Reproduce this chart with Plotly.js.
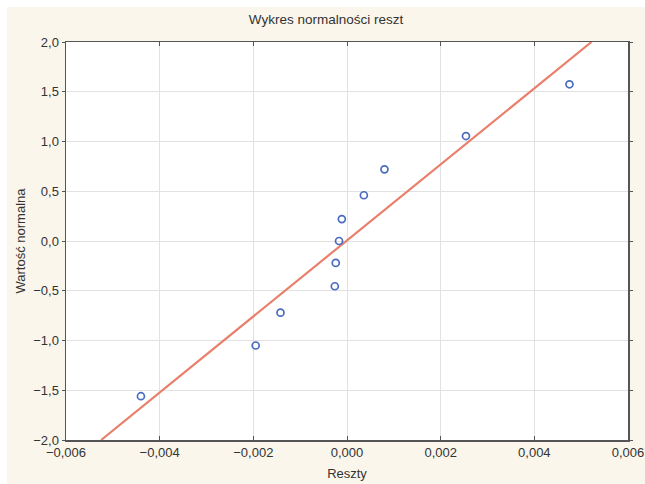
<!DOCTYPE html>
<html>
<head>
<meta charset="utf-8">
<script src="https://cdn.plot.ly/plotly-3.0.1.min.js"></script>
<style>
html,body{margin:0;padding:0;background:#ffffff;}
#chart{position:absolute;left:7px;top:7px;width:638px;height:477px;}
</style>
</head>
<body>
<div id="chart"></div>
<script>
// Residuals (x) and expected normal values (y)
const residuals = [-0.0044, -0.00195, -0.00142, -0.00026, -0.00024, -0.00017, -0.00011, 0.00036, 0.0008, 0.00254, 0.00475];
const normalValues = [-1.56, -1.05, -0.72, -0.455, -0.22, 0.0, 0.22, 0.46, 0.72, 1.055, 1.575];
// Reference line end points
const lineX = [-0.00525, 0.00522];
const lineY = [-2.0, 2.0];
const xTicks = [-0.006, -0.004, -0.002, 0.0, 0.002, 0.004, 0.006];
const yTicks = [-2.0, -1.5, -1.0, -0.5, 0.0, 0.5, 1.0, 1.5, 2.0];

const traces = [
  {x: lineX, y: lineY, mode: 'lines', type: 'scatter',
   line: {color: '#e8806c', width: 2.2}, hoverinfo: 'skip', showlegend: false},
  {x: residuals, y: normalValues, mode: 'markers', type: 'scatter',
   marker: {symbol: 'circle-open', size: 7, color: '#4a6cc0', line: {width: 1.7, color: '#4a6cc0'}},
   showlegend: false}
];

const axisFont = {family: 'Liberation Sans, Arial, sans-serif', size: 13, color: '#333333'};
const layout = {
  width: 638, height: 477,
  paper_bgcolor: '#faf6ec',
  plot_bgcolor: '#ffffff',
  margin: {l: 59, r: 17, t: 35, b: 44},
  separators: ',.',
  showlegend: false,
  title: {text: 'Wykres normalności reszt', font: {family: 'Liberation Sans, Arial, sans-serif', size: 13.5, color: '#333333'},
          x: 0.5, xanchor: 'center', y: 0.975, yanchor: 'middle'},
  xaxis: {
    range: [-0.006, 0.006], tickvals: xTicks, tickformat: '.3f',
    showgrid: true, gridcolor: '#e2e2e2', gridwidth: 1,
    zeroline: false, showline: true, linecolor: '#555555', linewidth: 1.5, mirror: 'ticks',
    ticks: 'inside', ticklen: 4, tickcolor: '#555555',
    tickfont: axisFont,
    title: {text: 'Reszty', font: axisFont, standoff: 10}
  },
  yaxis: {
    range: [-2, 2], tickvals: yTicks, tickformat: '.1f',
    showgrid: true, gridcolor: '#e2e2e2', gridwidth: 1,
    zeroline: false, showline: true, linecolor: '#555555', linewidth: 1.5, mirror: 'ticks',
    ticks: 'outside', ticklen: 3, tickcolor: '#555555',
    tickfont: axisFont,
    title: {text: 'Wartość normalna', font: axisFont, standoff: 4}
  }
};

Plotly.newPlot('chart', traces, layout, {displayModeBar: false, staticPlot: true});
</script>
</body>
</html>
